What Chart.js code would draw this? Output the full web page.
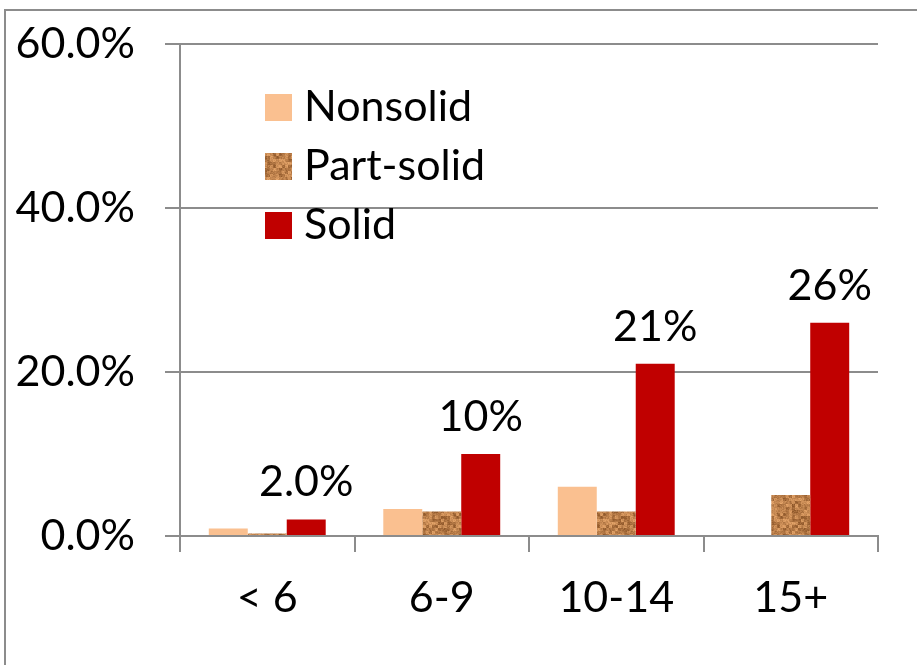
<!DOCTYPE html>
<html>
<head>
<meta charset="utf-8">
<script src="https://cdn.jsdelivr.net/npm/chart.js"></script>
<style>
  html, body { margin:0; padding:0; background:#fff; overflow:hidden; }
  #frame { position:absolute; left:4px; top:9px; width:1000px; height:1000px; border:2px solid #8c8c8c; }
  #wrap { position:absolute; left:0; top:0; width:917px; height:665px; }
</style>
</head>
<body>
<div id="frame"></div>
<div id="wrap"><canvas id="chart"></canvas></div>
<script>
// chart data
var categories  = ['< 6', '6-9', '10-14', '15+'];
var nonsolid    = [0.9, 3.3, 6.0, 0];
var partSolid   = [0.3, 3.0, 3.0, 5.0];
var solid       = [2.0, 10.0, 21.0, 26.0];
var solidLabels = ['2.0%', '10%', '21%', '26%'];
var seriesNames = ['Nonsolid', 'Part-solid', 'Solid'];

var FONT = 'Lato';
var FSIZE = 43;

// Part-solid: kork itxurako testura (deterministic noise)
function corkPattern(){
  var c = document.createElement('canvas');
  c.width = 36; c.height = 36;
  var g = c.getContext('2d');
  function h(x, y){
    var s = Math.sin(x * 12.9898 + y * 78.233) * 43758.5453;
    return s - Math.floor(s);
  }
  for(var y = 0; y < 36; y++){
    for(var x = 0; x < 36; x++){
      var v = (h(x, y) * 0.8 + h(Math.floor(x/3), Math.floor(y/3)) * 1.6) / 2.4;
      var r = Math.round(140 + v * 95), gg = Math.round(85 + v * 85), b = Math.round(40 + v * 70);
      g.fillStyle = 'rgb(' + r + ',' + gg + ',' + b + ')';
      g.fillRect(x, y, 1, 1);
    }
  }
  return g.createPattern(c, 'repeat');
}
var cork = corkPattern();
var colors = ['#FAC090', cork, '#C00000'];

// datu etiketak Solid barren gainean
var barLabels = {
  id: 'barLabels',
  afterDatasetsDraw: function(chart){
    var ctx = chart.ctx;
    var meta = chart.getDatasetMeta(2);
    ctx.save();
    ctx.font = FSIZE + 'px ' + FONT;
    ctx.fillStyle = '#000';
    ctx.textAlign = 'center';
    ctx.textBaseline = 'middle';
    meta.data.forEach(function(bar, i){
      ctx.fillText(solidLabels[i], bar.x, bar.y - 37);
    });
    ctx.restore();
  }
};

// legenda grafiko barruan
var innerLegend = {
  id: 'innerLegend',
  afterDraw: function(chart){
    var ctx = chart.ctx;
    var a = chart.chartArea;
    ctx.save();
    ctx.font = FSIZE + 'px ' + FONT;
    ctx.textBaseline = 'middle';
    seriesNames.forEach(function(n, i){
      var y = a.top + 50 + i * 59;
      ctx.fillStyle = colors[i];
      ctx.fillRect(a.left + 85, y, 27, 27);
      ctx.fillStyle = '#000';
      ctx.fillText(n, a.left + 124, y + 13);
    });
    ctx.restore();
  }
};

new Chart(document.getElementById('chart'), {
  type: 'bar',
  data: {
    labels: categories,
    datasets: [
      { label: seriesNames[0], data: nonsolid,  backgroundColor: colors[0] },
      { label: seriesNames[1], data: partSolid, backgroundColor: colors[1] },
      { label: seriesNames[2], data: solid,     backgroundColor: colors[2] }
    ]
  },
  options: {
    responsive: true,
    maintainAspectRatio: false,
    animation: false,
    layout: { padding: { left: 0, top: 44, right: 39, bottom: 0 } },
    datasets: { bar: { categoryPercentage: 0.67, barPercentage: 1.0 } },
    plugins: { legend: { display: false }, tooltip: { enabled: false } },
    scales: {
      x: {
        grid: { offset: true, drawOnChartArea: false, drawTicks: true, tickLength: 16, color: '#8c8c8c', lineWidth: 2 },
        border: { color: '#8c8c8c', width: 2 },
        ticks: { color: '#000', font: { family: FONT, size: FSIZE }, padding: 20 },
        afterFit: function(s){ s.height = 129; s.paddingLeft = 0; s.paddingRight = 0; }
      },
      y: {
        min: 0, max: 60,
        ticks: { stepSize: 20, color: '#000', font: { family: FONT, size: FSIZE }, padding: 30,
                 callback: function(v){ return v.toFixed(1) + '%'; } },
        grid: { color: '#8c8c8c', lineWidth: 2, tickLength: 15 },
        border: { color: '#8c8c8c', width: 2 },
        afterFit: function(s){ s.width = 180; s.paddingTop = 0; s.paddingBottom = 0; }
      }
    }
  },
  plugins: [barLabels, innerLegend]
});
</script>
</body>
</html>
